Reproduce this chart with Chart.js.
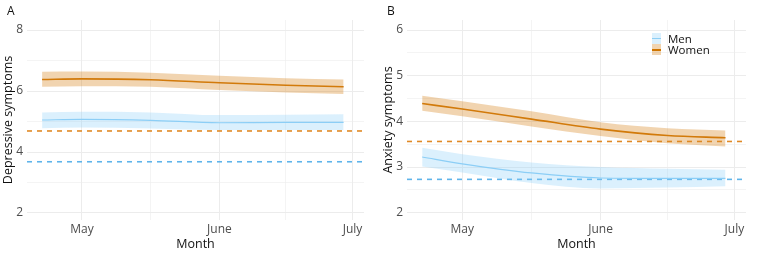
<!DOCTYPE html>
<html>
<head>
<meta charset="utf-8">
<script src="https://cdn.jsdelivr.net/npm/chart.js@4.4.1/dist/chart.umd.min.js"></script>
<style>
  body { margin: 0; background: #fff; font-family: "Open Sans", sans-serif; }
  #wrap { position: relative; width: 762px; height: 254px; }
  canvas { position: absolute; top: 0; }
  .panel-label { position: absolute; top: 2px; font-size: 12px; color: #111; }
  #legend { position: absolute; left: 652px; top: 33px; font-size: 11.5px; color: #111; }
  .item { display: flex; align-items: center; height: 11px; }
  .swatch { position: relative; width: 9px; height: 11px; margin-right: 7px; }
  .swatch span { position: absolute; left: 0; right: 0; top: 5px; height: 2px; }
</style>
</head>
<body>
<div id="wrap">
  <canvas id="chartA" width="380" height="254" style="left:0"></canvas>
  <canvas id="chartB" width="382" height="254" style="left:380px"></canvas>
  <div class="panel-label" style="left:7px">A</div>
  <div class="panel-label" style="left:387px">B</div>
  <div id="legend">
    <div class="item"><div class="swatch" style="background:rgba(135,206,250,0.3)"><span style="background:#8ecff5;height:1px"></span></div>Men</div>
    <div class="item"><div class="swatch" style="background:rgba(214,132,30,0.35)"><span style="background:#cf7500"></span></div>Women</div>
  </div>
</div>
<script>
// days counted from 1 May
const days = [-9, 0, 15.5, 31, 46, 59];
const monthTicks = [0, 15.5, 31, 46, 61];
const monthLabels = { 0: 'May', 31: 'June', 61: 'July' };

// panel A: depressive symptoms
const depWomen = [6.38, 6.40, 6.37, 6.27, 6.19, 6.14];
const depWomenHi = [6.63, 6.64, 6.60, 6.50, 6.42, 6.38];
const depWomenLo = [6.14, 6.16, 6.14, 6.03, 5.95, 5.90];
const depMen = [5.05, 5.07, 5.04, 4.96, 4.97, 4.97];
const depMenHi = [5.30, 5.32, 5.30, 5.21, 5.22, 5.24];
const depMenLo = [4.78, 4.80, 4.77, 4.72, 4.72, 4.72];
const depBaseWomen = 4.69;
const depBaseMen = 3.68;

// panel B: anxiety symptoms
const anxWomen = [4.39, 4.27, 4.05, 3.83, 3.69, 3.64];
const anxWomenHi = [4.56, 4.44, 4.22, 3.98, 3.85, 3.80];
const anxWomenLo = [4.23, 4.11, 3.89, 3.68, 3.52, 3.45];
const anxMen = [3.22, 3.07, 2.87, 2.76, 2.75, 2.75];
const anxMenHi = [3.42, 3.28, 3.10, 3.00, 2.96, 2.94];
const anxMenLo = [3.01, 2.88, 2.65, 2.53, 2.55, 2.58];
const anxBaseWomen = 3.56;
const anxBaseMen = 2.73;

const xMin = -12.4, xMax = 63.6;

const womenLine = '#cf7500';
const womenFill = 'rgba(214,132,30,0.35)';
const womenDash = '#e08a26';
const menLine = '#8ecff5';
const menFill = 'rgba(135,206,250,0.3)';
const menDash = '#5fb4ea';

function pts(values) {
    return values.map((v, i) => ({ x: days[i], y: v }));
}

function buildDatasets(w, wHi, wLo, m, mHi, mLo, baseW, baseM) {
    const smooth = { cubicInterpolationMode: 'monotone', pointRadius: 0 };
    return [
        { ...smooth, data: pts(mHi), borderWidth: 0, backgroundColor: menFill, fill: '+1' },
        { ...smooth, data: pts(mLo), borderWidth: 0, fill: false },
        { ...smooth, data: pts(wHi), borderWidth: 0, backgroundColor: womenFill, fill: '+1' },
        { ...smooth, data: pts(wLo), borderWidth: 0, fill: false },
        { ...smooth, data: pts(m), borderColor: menLine, borderWidth: 1.2, fill: false },
        { ...smooth, data: pts(w), borderColor: womenLine, borderWidth: 1.6, fill: false },
        { data: [{ x: xMin, y: baseW }, { x: xMax, y: baseW }], borderColor: womenDash, borderWidth: 1.6, borderDash: [5, 5], pointRadius: 0, fill: false },
        { data: [{ x: xMin, y: baseM }, { x: xMax, y: baseM }], borderColor: menDash, borderWidth: 1.6, borderDash: [5, 5], pointRadius: 0, fill: false }
    ];
}

function buildChart(id, datasets, yTitle, yMin, yMax, yStep, labelEvery) {
    const tickFont = { family: 'Open Sans', size: 12 };
    const titleFont = { family: 'Open Sans', size: 12.5 };
    return new Chart(document.getElementById(id), {
        type: 'line',
        data: { datasets: datasets },
        options: {
            responsive: false,
            animation: false,
            devicePixelRatio: 1,
            layout: { padding: { top: 20, right: 16, left: 0, bottom: 0 } },
            plugins: { legend: { display: false }, tooltip: { enabled: false } },
            scales: {
                x: {
                    type: 'linear',
                    min: xMin,
                    max: xMax,
                    border: { display: false },
                    grid: {
                        drawTicks: false,
                        color: '#ececec',
                        lineWidth: ctx => (monthLabels[ctx.tick.value] ? 1 : 0.6)
                    },
                    afterBuildTicks: scale => { scale.ticks = monthTicks.map(v => ({ value: v })); },
                    afterFit: scale => { scale.height = 34; },
                    ticks: {
                        autoSkip: false,
                        maxRotation: 0,
                        padding: 2,
                        color: '#4d4d4d',
                        font: tickFont,
                        callback: v => monthLabels[v] || ''
                    },
                    title: { display: true, text: 'Month', color: '#111', font: titleFont, padding: { top: 0, bottom: 2 } }
                },
                y: {
                    min: yMin,
                    max: yMax,
                    border: { display: false },
                    grid: {
                        drawTicks: false,
                        color: '#ececec',
                        lineWidth: ctx => (Math.abs(ctx.tick.value % labelEvery) < 1e-6 ? 1 : 0.6)
                    },
                    afterFit: scale => { scale.width = 27; },
                    ticks: {
                        stepSize: yStep,
                        includeBounds: false,
                        padding: 4,
                        color: '#4d4d4d',
                        font: tickFont,
                        callback: v => (Math.abs(v % labelEvery) < 1e-6 ? String(v) : '')
                    },
                    title: { display: true, text: yTitle, color: '#111', font: titleFont, padding: { top: 1, bottom: 0 } }
                }
            }
        }
    });
}

buildChart('chartA',
    buildDatasets(depWomen, depWomenHi, depWomenLo, depMen, depMenHi, depMenLo, depBaseWomen, depBaseMen),
    'Depressive symptoms', 1.77, 8.33, 1, 2);

buildChart('chartB',
    buildDatasets(anxWomen, anxWomenHi, anxWomenLo, anxMen, anxMenHi, anxMenLo, anxBaseWomen, anxBaseMen),
    'Anxiety symptoms', 1.84, 6.22, 0.5, 1);
</script>
</body>
</html>
